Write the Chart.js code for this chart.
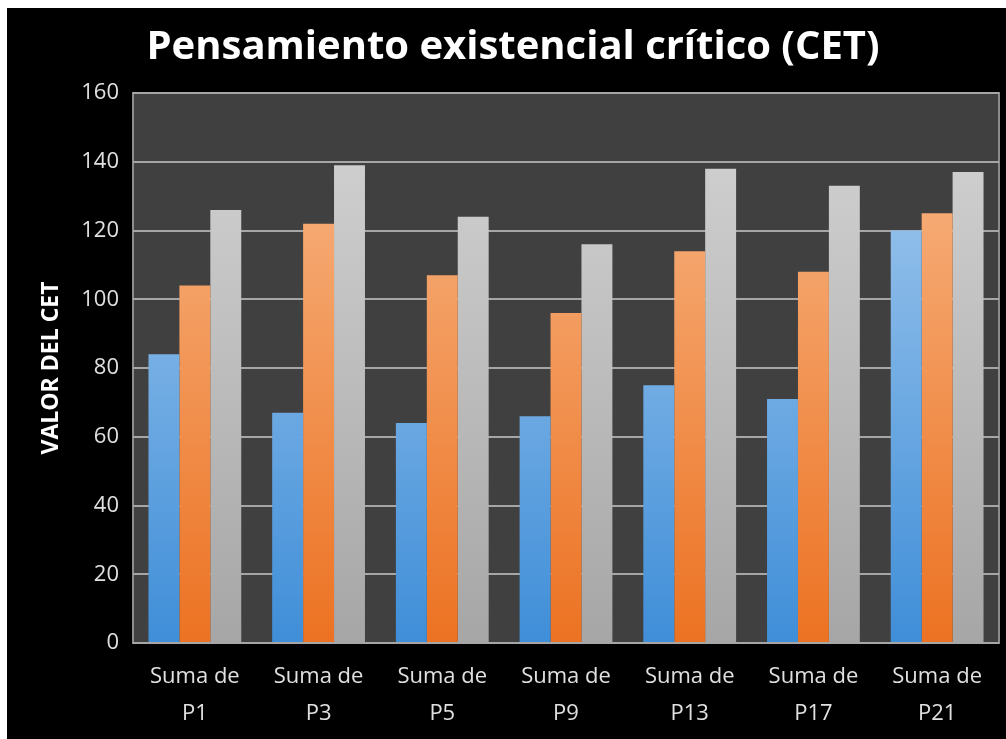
<!DOCTYPE html>
<html>
<head>
<meta charset="utf-8">
<script src="https://cdn.jsdelivr.net/npm/chart.js@4"></script>
<style>
  html, body { margin: 0; padding: 0; background: #ffffff; }
  #frame { position: absolute; left: 7px; top: 8px; width: 999px; height: 731px; background: #000000; }
</style>
</head>
<body>
<div id="frame"><canvas id="myChart" width="999" height="731"></canvas></div>
<script>
// datos
const categorias = [["Suma de", "P1"], ["Suma de", "P3"], ["Suma de", "P5"], ["Suma de", "P9"], ["Suma de", "P13"], ["Suma de", "P17"], ["Suma de", "P21"]];
const serieAzul = [84, 67, 64, 66, 75, 71, 120];
const serieNaranja = [104, 122, 107, 96, 114, 108, 125];
const serieGris = [126, 139, 124, 116, 138, 133, 137];
const tituloGrafico = "Pensamiento existencial crítico (CET)";
const tituloEjeY = "VALOR DEL CET";

// degradado vertical sobre el área del gráfico
function degradado(arriba, abajo) {
    return function (context) {
        const chart = context.chart;
        const area = chart.chartArea;
        if (!area) return abajo;
        const g = chart.ctx.createLinearGradient(0, area.top, 0, area.bottom);
        g.addColorStop(0, arriba);
        g.addColorStop(1, abajo);
        return g;
    };
}

// fondo gris oscuro del área de trazado
const fondoArea = {
    id: "fondoArea",
    beforeDraw(chart) {
        const { ctx, chartArea } = chart;
        ctx.save();
        ctx.fillStyle = "#404040";
        ctx.fillRect(chartArea.left, chartArea.top, chartArea.right - chartArea.left, chartArea.bottom - chartArea.top);
        ctx.strokeStyle = "#8c8c8c";
        ctx.lineWidth = 2;
        ctx.strokeRect(chartArea.left, chartArea.top, chartArea.right - chartArea.left, chartArea.bottom - chartArea.top);
        ctx.restore();
    }
};

const ctx = document.getElementById("myChart").getContext("2d");
const myChart = new Chart(ctx, {
    type: "bar",
    data: {
        labels: categorias,
        datasets: [
            { label: "Serie 1", data: serieAzul, backgroundColor: degradado("#a9cdef", "#3f8ed8"), barPercentage: 1.0, categoryPercentage: 0.75 },
            { label: "Serie 2", data: serieNaranja, backgroundColor: degradado("#f8b98a", "#ec7222"), barPercentage: 1.0, categoryPercentage: 0.75 },
            { label: "Serie 3", data: serieGris, backgroundColor: degradado("#d4d4d4", "#a6a6a6"), barPercentage: 1.0, categoryPercentage: 0.75 }
        ]
    },
    options: {
        responsive: false,
        animation: false,
        layout: { padding: { top: 0, right: 7, left: 20, bottom: 0 } },
        plugins: {
            legend: { display: false },
            tooltip: { enabled: false },
            title: {
                display: true,
                text: tituloGrafico,
                color: "#ffffff",
                font: { family: "Open Sans", size: 40, weight: "bold", lineHeight: 1.2 },
                padding: { top: 16, bottom: 21 }
            }
        },
        scales: {
            x: {
                grid: { display: false },
                border: { display: false },
                ticks: {
                    color: "#e0e0e0",
                    font: { family: "Open Sans", size: 22, lineHeight: 1.68 },
                    padding: 7,
                    maxRotation: 0
                },
                afterFit(scale) { scale.height = 96; }
            },
            y: {
                min: 0,
                max: 160,
                ticks: {
                    stepSize: 20,
                    color: "#e0e0e0",
                    font: { family: "Open Sans", size: 22 },
                    padding: 14
                },
                grid: { color: "#a6a6a6", lineWidth: 2, drawTicks: false },
                border: { display: false },
                title: {
                    display: true,
                    text: tituloEjeY,
                    color: "#ffffff",
                    font: { family: "Open Sans", size: 23, weight: "bold" },
                    padding: { top: 11, bottom: 4 }
                },
                afterFit(scale) { scale.width = 106; }
            }
        }
    },
    plugins: [fondoArea]
});
</script>
</body>
</html>
